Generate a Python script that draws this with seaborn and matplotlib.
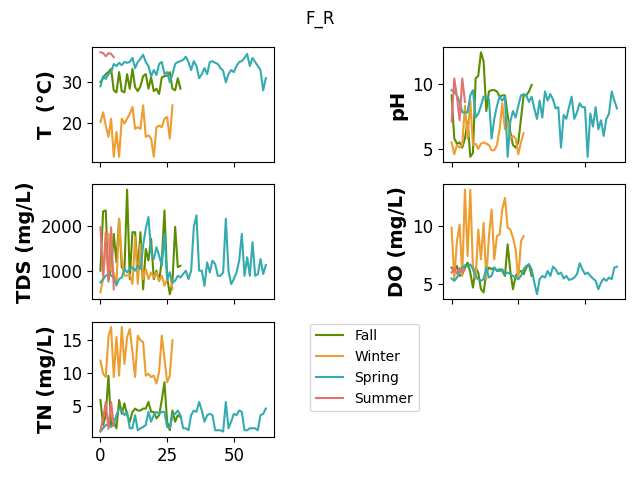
import numpy as np
import pandas as pd
import matplotlib
matplotlib.use("Agg")
import matplotlib.pyplot as plt
import seaborn as sns

seasons = ["Fall", "Winter", "Spring", "Summer"]
season_colors = {"Fall": "#5a8e00", "Winter": "#ee9d30", "Spring": "#33abb0", "Summer": "#e27370"}

variables = ["T", "pH", "TDS", "DO", "TN"]
var_labels = ["T  (°C)", "pH", "TDS (mg/L)", "DO (mg/L)", "TN (mg/L)"]

# ---- Fall (31 samples) ----
fall_T = [30.0, 31.0, 32.0, 32.5, 33.3, 28.0, 27.5, 32.5, 27.8, 27.5, 32.0, 28.4, 33.3, 28.8, 27.8,
          29.0, 31.5, 32.0, 28.4, 31.2, 27.8, 28.4, 27.1, 31.2, 31.5, 31.6, 32.5, 28.4, 28.0, 31.0, 28.4]
fall_pH = [9.1, 5.8, 5.4, 5.5, 5.1, 5.8, 7.1, 4.4, 4.7, 10.4, 10.6, 12.4, 11.7, 7.9, 9.4,
           9.5, 9.5, 9.4, 9.0, 9.1, 9.1, 7.6, 6.3, 5.3, 5.1, 5.5, 7.3, 9.1, 9.1, 9.4, 9.9]
fall_TDS = [1000, 2340, 2360, 800, 1040, 1830, 1190, 2170, 1080, 1000, 2830, 810, 1870, 1870, 1000,
            1870, 580, 1490, 1230, 1720, 810, 1000, 770, 1230, 2360, 850, 470, 740, 1990, 1080, 1110]
fall_DO = [6.43, 6.14, 6.57, 5.71, 5.86, 6.43, 6.86, 6.0, 4.71, 6.43, 6.0, 4.57, 4.29, 6.0, 6.43,
           6.29, 6.43, 6.14, 6.29, 6.14, 5.71, 8.43, 6.14, 4.57, 5.71, 6.0, 6.14, 5.86, 6.43, 6.71, 5.71]
fall_TN = [5.9, 2.1, 3.6, 9.6, 2.1, 2.6, 1.6, 5.9, 3.8, 5.4, 3.6, 2.6, 4.1, 4.6, 4.3,
           4.3, 4.6, 4.6, 5.6, 4.1, 4.1, 3.1, 3.6, 5.9, 8.6, 2.6, 1.3, 4.3, 2.6, 3.6, 3.3]

# ---- Winter (28 samples) ----
winter_T = [20.2, 22.6, 19.3, 16.5, 21.0, 11.6, 17.7, 11.6, 21.0, 19.8, 21.0, 22.2, 23.9, 18.5,
            18.9, 18.5, 24.3, 16.5, 16.9, 16.1, 11.6, 18.9, 19.3, 18.9, 21.0, 21.4, 16.1, 24.3]
winter_pH = [5.5, 4.6, 5.3, 5.1, 5.3, 8.3, 5.8, 8.7, 5.3, 5.4, 5.0, 5.4, 5.5, 5.4,
             5.3, 4.9, 4.9, 5.3, 6.5, 8.5, 6.5, 7.1, 5.8, 6.0, 5.8, 4.6, 5.5, 6.2]
winter_TDS = [510, 810, 1570, 1830, 1000, 960, 660, 2170, 1270, 890, 890, 920, 700, 1760,
              700, 1600, 810, 1040, 810, 960, 850, 960, 770, 890, 660, 810, 960, 580]
winter_DO = [9.86, 5.43, 8.71, 10.14, 5.71, 13.14, 7.43, 13.14, 6.43, 5.43, 9.71, 7.14, 10.29, 5.43,
             9.14, 11.43, 7.14, 9.14, 9.29, 11.43, 12.43, 9.86, 9.71, 9.0, 8.0, 5.43, 8.71, 9.14]
winter_TN = [11.9, 9.9, 9.4, 15.5, 17.0, 9.4, 15.5, 9.6, 17.0, 11.4, 15.5, 16.7, 13.2, 9.4,
             15.7, 15.0, 14.7, 9.6, 9.9, 9.4, 9.6, 8.4, 10.2, 15.7, 12.2, 8.6, 9.6, 15.0]

# ---- Spring (63 samples) ----
spring_T = [29.0, 31.5, 30.8, 32.0, 32.5, 34.5, 34.0, 34.8, 34.2, 35.0, 34.8, 35.0, 36.0, 33.5, 35.0,
            35.8, 36.8, 35.0, 34.0, 31.5, 33.0, 31.8, 34.5, 35.0, 32.0, 32.5, 30.0, 32.0, 34.5, 35.0,
            35.2, 35.5, 36.3, 35.0, 33.0, 35.2, 34.0, 31.0, 32.0, 33.5, 32.0, 35.0, 35.2, 34.8, 34.5,
            33.5, 32.8, 30.0, 32.0, 33.0, 32.5, 34.0, 35.0, 35.2, 36.0, 37.0, 34.0, 36.0, 35.0, 34.0,
            33.0, 28.0, 31.0]
spring_pH = [9.5, 9.4, 9.1, 8.6, 7.8, 7.8, 7.8, 9.1, 9.5, 7.4, 7.7, 8.3, 9.0, 9.0, 8.8,
             5.8, 7.3, 8.3, 9.0, 8.7, 9.0, 4.4, 7.1, 7.9, 7.4, 8.3, 9.1, 9.2, 9.1, 8.6,
             9.0, 8.1, 7.3, 8.7, 7.4, 9.4, 8.7, 9.2, 8.8, 8.1, 8.2, 5.1, 7.6, 7.3, 8.2,
             9.0, 7.3, 7.8, 8.5, 8.2, 8.2, 4.4, 7.7, 6.7, 8.2, 6.5, 7.2, 6.0, 7.3, 7.7,
             9.4, 8.7, 8.1]
spring_TDS = [735, 811, 886, 924, 900, 830, 680, 811, 848, 1038, 962, 1038, 1076, 1000, 1114,
              1038, 1570, 1950, 2212, 1417, 1265, 1530, 1340, 1114, 1833, 811, 962, 735, 773, 886,
              848, 924, 1000, 811, 1000, 1985, 2250, 1000, 1000, 659, 1189, 962, 1227, 1151, 886,
              886, 962, 2174, 1000, 697, 811, 962, 1227, 1833, 886, 1303, 886, 1644, 886, 924,
              1265, 924, 1129]
spring_DO = [5.49, 5.29, 5.57, 6.0, 6.43, 6.63, 6.51, 6.71, 6.29, 5.71, 5.43, 5.29, 5.43, 6.43, 5.57,
             5.71, 6.43, 6.14, 6.14, 6.29, 5.86, 6.0, 5.86, 5.71, 5.57, 5.43, 5.71, 6.29, 6.57, 6.71,
             6.29, 5.14, 4.14, 5.43, 5.71, 5.57, 6.14, 5.71, 6.51, 6.29, 5.86, 6.0, 5.49, 5.71, 5.37,
             5.43, 5.57, 5.86, 6.8, 6.29, 5.86, 6.0, 5.71, 5.49, 5.29, 4.57, 5.14, 5.49, 5.29, 5.57,
             5.43, 6.43, 6.51]
spring_TN = [1.1, 1.6, 2.1, 2.1, 1.8, 2.3, 3.6, 4.6, 4.3, 3.6, 4.1, 1.6, 1.6, 3.6, 1.3,
             1.6, 1.8, 2.1, 4.1, 2.6, 3.6, 4.1, 3.8, 4.1, 4.1, 1.8, 1.6, 3.6, 3.8, 4.3,
             3.6, 1.6, 1.6, 1.3, 3.6, 4.3, 4.1, 5.6, 4.3, 2.6, 3.6, 3.8, 3.6, 1.3, 1.3,
             1.3, 1.1, 5.6, 1.6, 2.6, 3.8, 3.6, 4.3, 4.1, 1.3, 1.3, 1.6, 1.6, 1.6, 1.3,
             3.6, 3.8, 4.6]

# ---- Summer (6 samples) ----
summer_T = [37.4, 37.2, 36.4, 37.2, 37.0, 36.2]
summer_pH = [7.1, 10.4, 9.0, 7.2, 10.4, 8.6]
summer_TDS = [1980, 900, 1870, 750, 1980, 580]
summer_DO = [6.0, 6.4, 5.9, 6.4, 6.0, 6.3]
summer_TN = [1.3, 3.0, 5.6, 1.5, 5.6, 2.0]

season_data = {
    "Fall": [fall_T, fall_pH, fall_TDS, fall_DO, fall_TN],
    "Winter": [winter_T, winter_pH, winter_TDS, winter_DO, winter_TN],
    "Spring": [spring_T, spring_pH, spring_TDS, spring_DO, spring_TN],
    "Summer": [summer_T, summer_pH, summer_TDS, summer_DO, summer_TN],
}

frames = []
for s in seasons:
    cols = season_data[s]
    d = pd.DataFrame(dict(zip(variables, cols)))
    d["idx"] = np.arange(len(d))
    d["season"] = s
    frames.append(d)
df = pd.concat(frames, ignore_index=True)

fig, axes = plt.subplots(3, 2, sharex=True, figsize=(6.4, 4.8), dpi=100)
fig.subplots_adjust(left=0.144, right=0.977, top=0.902, bottom=0.090, wspace=0.93, hspace=0.195)
ax_list = axes.flatten()

for i, (var, lab) in enumerate(zip(variables, var_labels)):
    ax = ax_list[i]
    sns.lineplot(data=df, x="idx", y=var, hue="season", hue_order=seasons,
                 palette=season_colors, lw=1.5, ax=ax, legend=(i == 4))
    ax.set_xlabel("")
    ax.set_ylabel(lab, fontsize=14, fontweight="bold")
    ax.tick_params(labelsize=12)

ax_list[5].axis("off")
ax_list[4].legend(loc="upper left", bbox_to_anchor=(1.198, 0.985), borderaxespad=0, fontsize=10)

fig.suptitle("F_R", fontsize=12)
fig.savefig("out.png", dpi=100)
